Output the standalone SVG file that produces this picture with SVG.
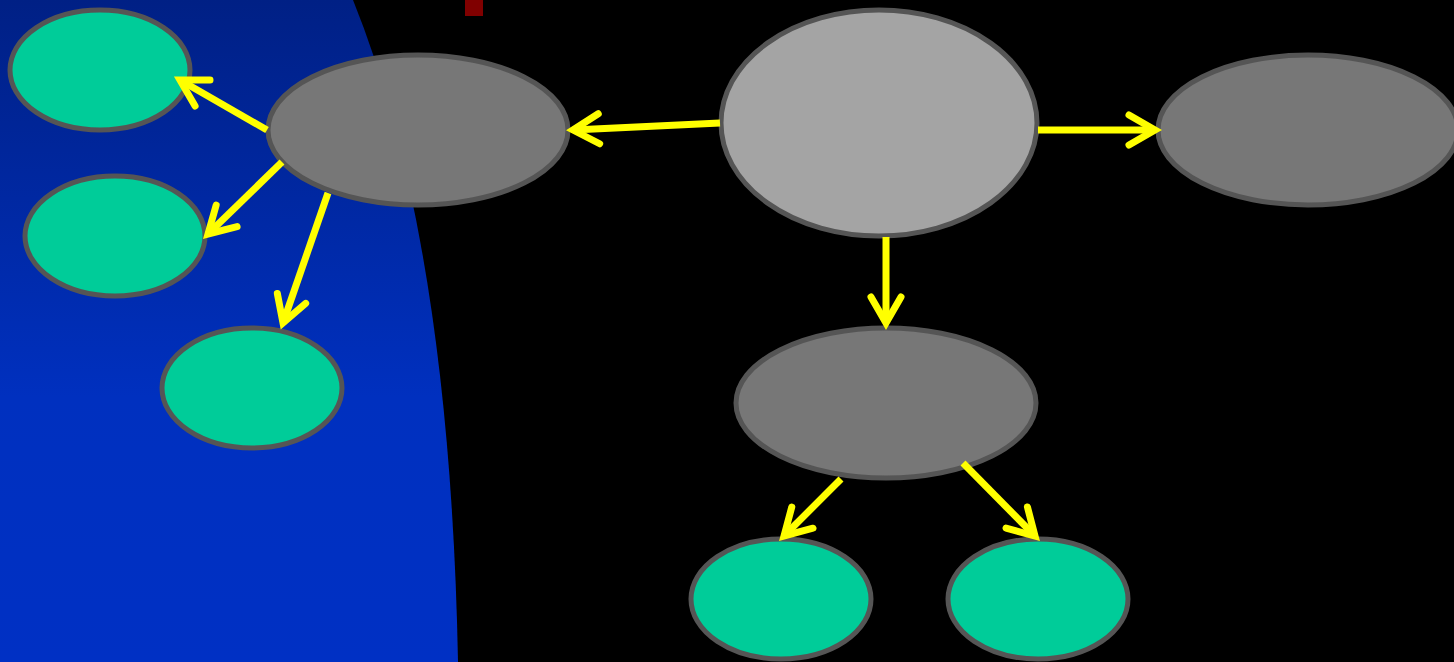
<svg xmlns="http://www.w3.org/2000/svg" width="1454" height="662" viewBox="0 0 1454 662">
<defs>
<linearGradient id="bg" x1="0" y1="0" x2="0" y2="1">
<stop offset="0" stop-color="#002085"/>
<stop offset="0.6" stop-color="#0030bf"/>
<stop offset="1" stop-color="#0030c4"/>
</linearGradient>
<marker id="ah" markerUnits="userSpaceOnUse" markerWidth="60" markerHeight="60" refX="0" refY="0" viewBox="-40 -30 60 60" orient="auto" overflow="visible">
<path d="M-26,-15 L0,0 L-26,15" fill="none" stroke="#ffff00" stroke-width="7" stroke-linecap="round" stroke-linejoin="miter"/>
</marker>
<style>
.g{fill:#00cc99;stroke:#555555;stroke-width:5}
.d{fill:#777777;stroke:#555555;stroke-width:5}
.l{fill:#a4a4a4;stroke:#555555;stroke-width:5}
.c{fill:none;stroke:#ffff00;stroke-width:7;marker-end:url(#ah)}
</style>
</defs>
<rect x="0" y="0" width="1454" height="662" fill="#000000"/>
<path d="M0,0 L353,0 Q450,240 458,662 L0,662 Z" fill="url(#bg)"/>
<rect x="465" y="0" width="18" height="16" fill="#800000"/>
<g id="n-left"><ellipse class="d" cx="418" cy="130" rx="150" ry="75"/></g>
<g id="n-center"><ellipse class="l" cx="879" cy="123" rx="158" ry="113"/></g>
<g id="n-right"><ellipse class="d" cx="1308" cy="130" rx="150" ry="75"/></g>
<g id="n-bottom"><ellipse class="d" cx="886" cy="403" rx="150" ry="75"/></g>
<g id="n-g1"><ellipse class="g" cx="100" cy="70" rx="90" ry="60"/></g>
<g id="n-g2"><ellipse class="g" cx="115" cy="236" rx="90" ry="60"/></g>
<g id="n-g3"><ellipse class="g" cx="252" cy="388" rx="90" ry="60"/></g>
<g id="n-g4"><ellipse class="g" cx="781" cy="599" rx="90" ry="60"/></g>
<g id="n-g5"><ellipse class="g" cx="1038" cy="599" rx="90" ry="60"/></g>
<g id="connectors">
<line class="c" x1="720" y1="123" x2="573" y2="130"/>
<line class="c" x1="1038" y1="130" x2="1155" y2="130"/>
<line class="c" x1="886" y1="237" x2="886" y2="323"/>
<line class="c" x1="267" y1="130" x2="180" y2="80"/>
<line class="c" x1="282" y1="162" x2="208" y2="234"/>
<line class="c" x1="328" y1="193" x2="283" y2="323"/>
<line class="c" x1="841" y1="479" x2="784" y2="536"/>
<line class="c" x1="963" y1="463" x2="1035" y2="536"/>
</g>
</svg>
